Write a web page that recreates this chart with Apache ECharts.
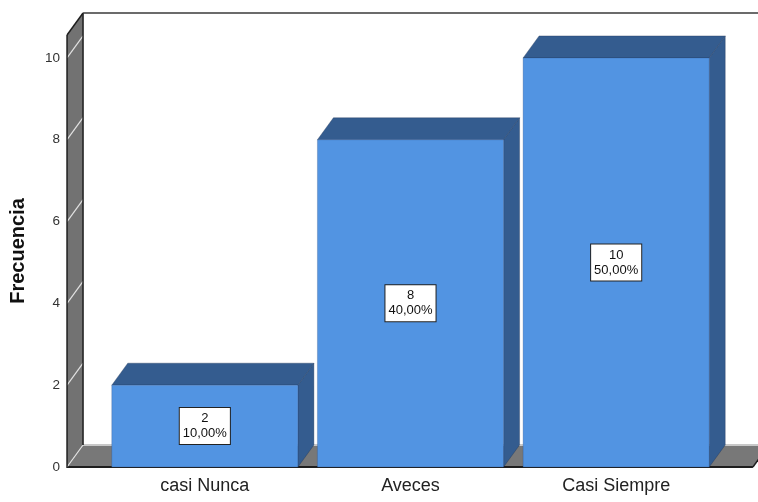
<!DOCTYPE html>
<html>
<head>
<meta charset="utf-8">
<script src="https://cdn.jsdelivr.net/npm/echarts@6/dist/echarts.min.js"></script>
<style>
  html, body { margin: 0; padding: 0; background: #fff; }
  #chart { width: 758px; height: 502px; }
</style>
</head>
<body>
<div id="chart"></div>
<script>
// Response categories and their frequencies
const categories = ['casi Nunca', 'Aveces', 'Casi Siempre'];
const frequencies = [2, 8, 10];
// Value-axis ticks drawn on the side wall
const yTickValues = [0, 2, 4, 6, 8, 10];

const total = frequencies.reduce((a, b) => a + b, 0);
const percentLabels = frequencies.map(v => (v / total * 100).toFixed(2).replace('.', ',') + '%');

const FONT = "'Liberation Sans', Arial, sans-serif";
const DX = 16;   // depth offset (x) of the pseudo-3D extrusion
const DY = 22;   // depth offset (y)

const FRONT = '#5294e2';
const SHADE = '#345c8f';

// Side wall, floor and back border of the 3D frame
function renderFrame(params, api) {
  const cs = params.coordSys;
  const band = api.size([1, 0])[0];
  const y0 = api.coord([0, 0])[1];
  const yTop = cs.y;
  const left = cs.x - band * 0.17;
  const right = cs.x + cs.width + band * 0.165;
  const dark = '#1e1e1e';
  const children = [];

  // floor
  children.push({ type: 'polygon', shape: { points: [[left, y0], [left + DX, y0 - DY], [right + DX, y0 - DY], [right, y0]] },
    style: { fill: '#787878' } });
  children.push({ type: 'line', shape: { x1: left + DX, y1: y0 - DY, x2: right + DX, y2: y0 - DY },
    style: { stroke: '#c8c8c8', lineWidth: 2 } });
  children.push({ type: 'line', shape: { x1: left, y1: y0, x2: right, y2: y0 },
    style: { stroke: dark, lineWidth: 2 } });
  children.push({ type: 'line', shape: { x1: right, y1: y0, x2: right + DX, y2: y0 - DY },
    style: { stroke: dark, lineWidth: 1.5 } });

  // left wall
  children.push({ type: 'polygon', shape: { points: [[left, y0], [left, yTop], [left + DX, yTop - DY], [left + DX, y0 - DY]] },
    style: { fill: '#727272' } });
  yTickValues.forEach(v => {
    const y = api.coord([0, v])[1];
    children.push({ type: 'line', shape: { x1: left, y1: y, x2: left + DX, y2: y - DY },
      style: { stroke: '#e2e2e2', lineWidth: 1.2 } });
  });
  children.push({ type: 'line', shape: { x1: left, y1: y0 + 1, x2: left, y2: yTop },
    style: { stroke: dark, lineWidth: 1.5 } });
  children.push({ type: 'line', shape: { x1: left + DX, y1: y0 - DY, x2: left + DX, y2: yTop - DY },
    style: { stroke: dark, lineWidth: 1.5 } });
  children.push({ type: 'line', shape: { x1: left, y1: yTop, x2: left + DX, y2: yTop - DY },
    style: { stroke: dark, lineWidth: 1.5 } });

  // back top border
  children.push({ type: 'line', shape: { x1: left + DX, y1: yTop - DY, x2: cs.x + cs.width + 200, y2: yTop - DY },
    style: { stroke: '#3a3a3a', lineWidth: 1.5 } });

  return { type: 'group', children };
}

// Extruded bar with its value / percentage box
function renderBar(params, api) {
  const idx = api.value(0);
  const val = api.value(1);
  const top = api.coord([idx, val]);
  const base = api.coord([idx, 0]);
  const band = api.size([1, 0])[0];
  const w = band * 0.905;
  const x0 = top[0] - w / 2;
  const x1 = x0 + w;
  const yv = top[1];
  const yb = base[1];
  const edge = 'rgba(25,45,80,0.55)';

  return {
    type: 'group',
    children: [
      { type: 'polygon', shape: { points: [[x1, yv], [x1 + DX, yv - DY], [x1 + DX, yb - DY], [x1, yb]] },
        style: { fill: SHADE, stroke: edge, lineWidth: 0.6 } },
      { type: 'polygon', shape: { points: [[x0, yv], [x0 + DX, yv - DY], [x1 + DX, yv - DY], [x1, yv]] },
        style: { fill: SHADE, stroke: edge, lineWidth: 0.6 } },
      { type: 'rect', shape: { x: x0, y: yv, width: w, height: yb - yv },
        style: { fill: FRONT, stroke: 'rgba(40,70,120,0.45)', lineWidth: 0.6 } },
      { type: 'text', x: (x0 + x1) / 2, y: (yv + yb) / 2,
        style: {
          text: frequencies[params.dataIndex] + '\n' + percentLabels[params.dataIndex],
          font: '13px ' + FONT, fill: '#111', align: 'center', verticalAlign: 'middle',
          lineHeight: 15, backgroundColor: '#fff', borderColor: '#222', borderWidth: 1,
          padding: [3, 3, 3, 3]
        } }
    ]
  };
}

const chart = echarts.init(document.getElementById('chart'), null, { renderer: 'canvas' });
chart.setOption({
  animation: false,
  backgroundColor: '#fff',
  grid: { left: 102, right: 39, top: 35, bottom: 35, containLabel: false, outerBoundsMode: 'none' },
  xAxis: {
    type: 'category',
    data: categories,
    axisLine: { show: false },
    axisTick: { show: false },
    axisLabel: { margin: 10, fontSize: 18, color: '#222', fontFamily: FONT }
  },
  yAxis: {
    type: 'value',
    min: 0,
    max: 10.56,
    interval: 2,
    name: 'Frecuencia',
    nameLocation: 'middle',
    nameRotate: 90,
    nameGap: 74,
    nameTextStyle: { fontSize: 20, fontWeight: 'bold', color: '#111', fontFamily: FONT },
    axisLine: { show: false },
    axisTick: { show: false },
    splitLine: { show: false },
    axisLabel: {
      margin: 42, fontSize: 13.5, color: '#333', fontFamily: FONT,
      formatter: v => (yTickValues.indexOf(v) >= 0 ? String(v) : '')
    }
  },
  series: [
    { type: 'custom', renderItem: renderFrame, data: [[0, 0]], z: 1, silent: true },
    { type: 'custom', renderItem: renderBar, data: frequencies.map((v, i) => [i, v]), z: 2,
      encode: { x: 0, y: 1 } }
  ]
});
</script>
</body>
</html>
